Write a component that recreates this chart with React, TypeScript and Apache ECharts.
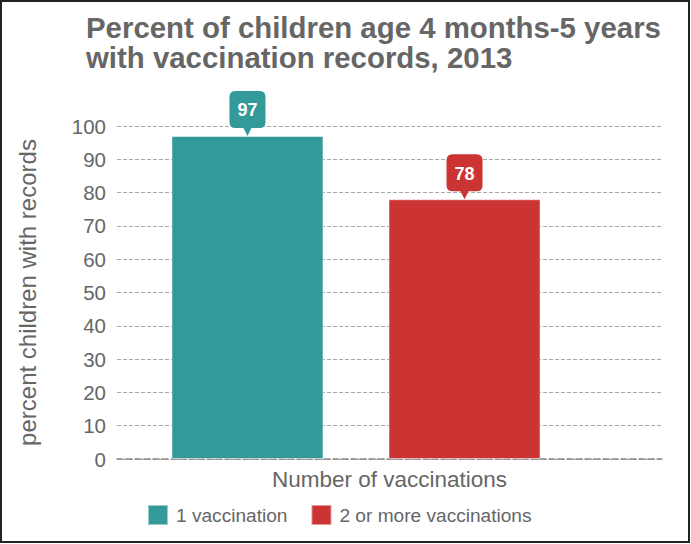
import React, { useEffect, useRef } from "react";
import * as echarts from "echarts";

const titleLines = ["Percent of children age 4 months-5 years", "with vaccination records, 2013"];
const category = ["Number of vaccinations"];
const seriesNames = ["1 vaccination", "2 or more vaccinations"];
const seriesValues = [[97], [78]];
const seriesColors = ["#339999", "#cc3333"];
const yTicks = { min: 0, max: 100, interval: 10 };
const yName = "percent children with records";

const FONT = "'Liberation Sans', Arial, Helvetica, sans-serif";
const CALLOUT =
  "path://M6,0 H30 Q36,0 36,6 V31 Q36,37 30,37 H22 L18,45 L14,37 H6 Q0,37 0,31 V6 Q0,0 6,0 Z";

export default function App() {
  const ref = useRef<HTMLDivElement>(null);
  useEffect(() => {
    document.body.style.margin = "0";
    const chart = echarts.init(ref.current!, null, { renderer: "svg" });
    chart.setOption({
      animation: false,
      textStyle: { fontFamily: FONT },
      title: {
        text: titleLines.join("\n"),
        left: 81,
        top: 8,
        textStyle: { fontSize: 29.4, fontWeight: "bold", color: "#666666", lineHeight: 29.8, fontFamily: FONT },
      },
      legend: {
        data: seriesNames,
        left: 142,
        top: 499,
        icon: "rect",
        itemWidth: 20,
        itemHeight: 20,
        itemGap: 23,
        textStyle: { fontSize: 19.1, color: "#666666", fontFamily: FONT, padding: [0, 0, 0, 3] },
      },
      grid: [
        { left: 117, right: 29, top: 126, bottom: 85 },
        { left: 117, right: 96, top: 126, bottom: 85 },
      ],
      xAxis: [
        {
          gridIndex: 0,
          type: "category",
          data: [""],
          axisTick: { show: false },
          axisLabel: { show: false },
          axisLine: { show: true, lineStyle: { type: "dashed", color: "#888888", width: 1.5 } },
          name: category[0],
          nameLocation: "middle",
          nameGap: 9,
          nameTextStyle: { fontSize: 22.5, color: "#666666", fontFamily: FONT },
        },
        {
          gridIndex: 1,
          type: "category",
          data: category,
          show: false,
        },
      ],
      yAxis: [
        {
          gridIndex: 0,
          type: "value",
          min: yTicks.min,
          max: yTicks.max,
          interval: yTicks.interval,
          axisLine: { show: false },
          axisTick: { show: false },
          axisLabel: { fontSize: 20.5, color: "#666666", margin: 11, fontFamily: FONT },
          splitLine: { show: true, lineStyle: { type: "dashed", color: "#aaaaaa" } },
          name: yName,
          nameLocation: "middle",
          nameGap: 78,
          nameTextStyle: { fontSize: 24, color: "#666666", fontFamily: FONT },
        },
        {
          gridIndex: 1,
          type: "value",
          min: yTicks.min,
          max: yTicks.max,
          interval: yTicks.interval,
          show: false,
          splitLine: { show: false },
        },
      ],
      series: seriesNames.map((name, i) => ({
        name,
        type: "bar",
        xAxisIndex: 1,
        yAxisIndex: 1,
        data: seriesValues[i],
        barWidth: 152,
        barGap: "42.8%",
        itemStyle: { color: seriesColors[i], borderColor: "rgba(255,255,255,0.5)", borderWidth: 1 },
        markPoint: {
          symbol: CALLOUT,
          symbolSize: [36, 45],
          symbolOffset: [0, "-50%"],
          itemStyle: { color: seriesColors[i] },
          label: {
            show: true,
            position: "inside",
            offset: [0, -3],
            color: "#ffffff",
            fontSize: 18,
            fontWeight: "bold",
            fontFamily: FONT,
          },
          data: [{ type: "max", name: "value" }],
        },
      })),
    });
    return () => chart.dispose();
  }, []);
  return (
    <div style={{ position: "absolute", left: 0, top: 0, width: 691, height: 544 }}>
      <div ref={ref} style={{ position: "absolute", left: 0, top: 0, width: 691, height: 544 }} />
      <div
        style={{
          position: "absolute",
          left: 0,
          top: 0,
          width: 690,
          height: 543,
          boxSizing: "border-box",
          border: "2px solid #222",
          pointerEvents: "none",
        }}
      />
    </div>
  );
}
